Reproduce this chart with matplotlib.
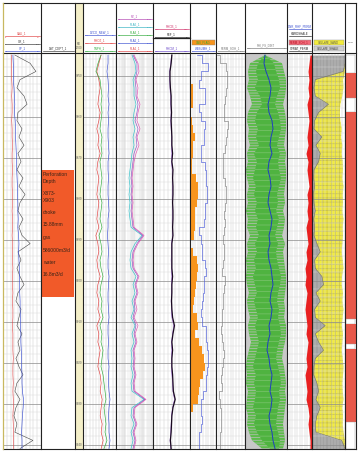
import numpy as np
import matplotlib
matplotlib.use("Agg")
import matplotlib.pyplot as plt
from matplotlib.patches import Rectangle

plt.rcParams['font.family'] = ['Liberation Sans', 'DejaVu Sans']
plt.rcParams['hatch.linewidth'] = 0.5

depth = np.arange(845, 942, 2)

# track 1
gr = [47, 107, 130, 67, 55, 83, 95, 59, 55, 75,
      63, 83, 59, 71, 55, 79, 63, 87, 67, 59,
      79, 63, 75, 107, 59, 71, 55, 67, 83, 59,
      51, 71, 63, 55, 75, 59, 67, 51, 63, 79,
      55, 47, 67, 51, 43, 55, 47, 118, 67]
sp = [-54, -53, -52, -53, -51, -50, -49, -50, -48, -47,
      -47, -46, -45, -44, -44, -43, -42, -42, -41, -41,
      -40, -41, -39, -38, -39, -38, -37, -37, -36, -36,
      -35, -35, -34, -34, -33, -33, -32, -31, -31, -30,
      -30, -29, -26, -27, -29, -30, -31, -30, -30]
cali = [8.2, 8.2, 8.3, 8.3, 8.4, 8.3, 8.4, 8.4, 8.3, 8.4,
        8.4, 8.5, 8.4, 8.4, 8.5, 8.4, 8.4, 8.5, 8.5, 8.4,
        8.5, 8.5, 8.4, 8.5, 8.5, 8.5, 8.6, 8.5, 8.5, 8.6,
        8.5, 8.6, 8.6, 8.5, 8.6, 8.6, 8.6, 8.7, 8.6, 8.6,
        8.7, 8.6, 8.7, 8.7, 8.6, 8.7, 8.7, 8.7, 8.8]

# track 3
rhoz = [2.50, 2.43, 2.37, 2.43, 2.47, 2.43, 2.40, 2.47, 2.43, 2.37,
        2.43, 2.40, 2.47, 2.40, 2.37, 2.43, 2.40, 2.37, 2.43, 2.40,
        2.37, 2.43, 2.34, 2.40, 2.43, 2.37, 2.40, 2.47, 2.40, 2.37,
        2.43, 2.40, 2.47, 2.37, 2.43, 2.40, 2.47, 2.43, 2.40, 2.47,
        2.50, 2.47, 2.53, 2.50, 2.47, 2.53, 2.50, 2.56, 2.50]
tnph = [.123, .177, .214, .141, .123, .105, .123, .105, .123, .141,
        .105, .123, .105, .141, .123, .105, .123, .141, .105, .123,
        .141, .105, .159, .123, .105, .141, .123, .086, .123, .141,
        .105, .123, .086, .141, .105, .123, .086, .105, .123, .086,
        .068, .050, .032, .068, .050, .032, .050, .014, .068]
dtco = [64.2, 64.2, 67.3, 64.2, 62.7, 64.2, 61.2, 64.2, 62.7, 64.2,
        64.2, 62.7, 61.2, 64.2, 64.2, 62.7, 64.2, 64.2, 62.7, 61.2,
        64.2, 64.2, 65.8, 64.2, 62.7, 64.2, 64.2, 61.2, 62.7, 64.2,
        64.2, 62.7, 61.2, 64.2, 64.2, 62.7, 64.2, 64.2, 61.2, 62.7,
        62.7, 61.2, 58.2, 61.2, 62.7, 61.2, 61.2, 58.2, 61.2]

# track 4 (ohm.m)
rt = [17.7, 48, 61, 29, 48, 37, 79, 48, 37, 79,
      37, 61, 29, 17.7, 13.8, 10.7, 13.8, 10.7, 13.8, 10.7,
      13.8, 17.7, 213, 48, 17.7, 13.8, 17.7, 61, 29, 48,
      22.7, 37, 17.7, 48, 22.7, 37, 17.7, 22.7, 17.7, 29,
      17.7, 22.7, 350, 22.7, 17.7, 37, 17.7, 29, 17.7]
rxo = [10.7, 22.7, 29, 13.8, 17.7, 17.7, 29, 17.7, 13.8, 22.7,
       13.8, 17.7, 10.7, 8.4, 6.5, 5.1, 6.5, 5.1, 6.5, 5.1,
       6.5, 8.4, 129, 22.7, 8.4, 6.5, 8.4, 29, 13.8, 22.7,
       10.7, 17.7, 8.4, 22.7, 10.7, 17.7, 8.4, 10.7, 8.4, 13.8,
       8.4, 10.7, 213, 10.7, 8.4, 17.7, 8.4, 13.8, 8.4]
rla3 = [13.8, 37, 37, 22.7, 29, 29, 48, 37, 22.7, 48,
        29, 37, 17.7, 13.8, 10.7, 8.4, 10.7, 8.4, 10.7, 8.4,
        10.7, 13.8, 166, 37, 13.8, 10.7, 13.8, 48, 22.7, 37,
        17.7, 22.7, 13.8, 29, 17.7, 29, 13.8, 17.7, 13.8, 22.7,
        13.8, 17.7, 273, 17.7, 13.8, 29, 13.8, 22.7, 13.8]

# track 5
rhob = [2.46, 2.44, 2.41, 2.41, 2.42, 2.44, 2.44, 2.45, 2.44, 2.45,
        2.46, 2.46, 2.48, 2.46, 2.49, 2.48, 2.49, 2.49, 2.48, 2.49,
        2.49, 2.48, 2.49, 2.46, 2.46, 2.46, 2.46, 2.48, 2.46, 2.46,
        2.45, 2.46, 2.48, 2.53, 2.49, 2.46, 2.48, 2.46, 2.46, 2.48,
        2.49, 2.50, 2.55, 2.49, 2.46, 2.45, 2.44, 2.42, 2.44]
rhom = [2.45, 2.43, 2.40, 2.40, 2.41, 2.42, 2.43, 2.44, 2.43, 2.44,
        2.45, 2.45, 2.46, 2.45, 2.47, 2.47, 2.48, 2.47, 2.47, 2.48,
        2.47, 2.47, 2.48, 2.45, 2.45, 2.44, 2.45, 2.46, 2.45, 2.45,
        2.44, 2.45, 2.46, 2.51, 2.48, 2.45, 2.46, 2.45, 2.45, 2.46,
        2.48, 2.49, 2.53, 2.48, 2.45, 2.44, 2.43, 2.41, 2.43]

# track 6
gas_flag = [0, 0, 0, 0.02, 0.1, 0.12, 0.12, 0.04, 0.08, 0.1,
            0.18, 0.12, 0.1, 0.08, 0.06, 0.22, 0.3, 0.3, 0.28, 0.2,
            0.18, 0.2, 0.15, 0.05, 0.12, 0.25, 0.3, 0.28, 0.22, 0.18,
            0.15, 0.12, 0.25, 0.3, 0.2, 0.35, 0.45, 0.55, 0.58, 0.5,
            0.4, 0.35, 0.3, 0.1, 0.03, 0.02, 0, 0, 0]
wbsum = [.27, .69, .73, .15, .54, .58, .54, .19, .62, .54,
         .50, .58, .27, .54, .62, .58, .65, .69, .62, .54,
         .58, .50, .23, .58, .38, .54, .62, .58, .50, .58,
         .42, .54, .31, .62, .58, .65, .69, .73, .69, .65,
         .58, .62, .35, .50, .38, .54, .31, .38, .35]

# track 7
perm = [3.4, 27.6, 41.4, 34.5, 44.8, 24.1, 37.9, 20.7, 34.5, 48.3,
        27.6, 41.4, 20.7, 31, 17.2, 34.5, 27.6, 44.8, 24.1, 37.9,
        20.7, 41.4, 17.2, 31, 24.1, 34.5, 17.2, 27.6, 37.9, 20.7,
        31, 17.2, 27.6, 13.8, 24.1, 17.2, 34.5, 20.7, 27.6, 13.8,
        24.1, 17.2, 6.9, 20.7, 13.8, 24.1, 10.3, 17.2, 10.3]

# track 8 (porosity, scale 0.42 -> 0)
phi_in_l = [.22, .29, .31, .29, .32, .27, .25, .30, .32, .29,
            .31, .28, .33, .30, .32, .34, .31, .33, .30, .32,
            .29, .31, .28, .32, .30, .33, .31, .34, .32, .30,
            .33, .31, .29, .32, .30, .28, .30, .32, .34, .31,
            .33, .31, .32, .34, .31, .33, .30, .25, .17]
phi_in_r = [.22, .13, .11, .08, .07, .10, .12, .09, .07, .06,
            .08, .10, .07, .09, .08, .06, .08, .10, .09, .11,
            .08, .10, .12, .09, .11, .10, .08, .06, .07, .09,
            .10, .08, .09, .07, .06, .08, .10, .11, .09, .07,
            .06, .08, .07, .09, .10, .11, .09, .07, .08]
phi_out_l = [.22, .37, .39, .38, .40, .37, .35, .39, .40, .38,
             .39, .37, .40, .39, .41, .40, .38, .40, .39, .41,
             .39, .40, .37, .40, .39, .41, .40, .41, .40, .38,
             .40, .39, .37, .39, .38, .36, .38, .40, .41, .40,
             .41, .39, .40, .41, .39, .40, .38, .35, .25]
phi_out_r = [.22, .05, .03, .01, .01, .02, .04, .02, .01, .01,
             .02, .03, .01, .02, .01, .01, .02, .03, .02, .04,
             .02, .03, .05, .02, .04, .03, .02, .01, .01, .02,
             .03, .02, .03, .01, .01, .02, .04, .05, .03, .02,
             .01, .02, .01, .02, .03, .04, .03, .02, .04]
phit = [.22, .23, .21, .18, .16, .17, .19, .18, .15, .14,
        .16, .17, .15, .18, .19, .17, .16, .18, .19, .17,
        .15, .16, .18, .17, .19, .18, .16, .15, .14, .16,
        .17, .15, .16, .18, .17, .19, .20, .18, .17, .15,
        .16, .17, .15, .16, .18, .17, .15, .14, .12]

# track 9
perm_soh = [46, 44, 42, 44, 42, 44, 40, 42, 44, 42,
            40, 42, 38, 42, 40, 42, 44, 40, 42, 40,
            42, 38, 40, 42, 38, 40, 36, 38, 36, 40,
            38, 36, 38, 40, 38, 42, 40, 38, 40, 36,
            38, 40, 38, 42, 44, 42, 44, 46, 46]

# track 10
vsh = [1.0, 1.0, 0.95, 0.1, 0.06, 0.1, 0.5, 0.2, 0.08, 0.06,
       0.3, 0.12, 0.25, 0.2, 0.06, 0.05, 0.08, 0.04, 0.06, 0.1,
       0.05, 0.08, 0.06, 0.15, 0.25, 0.08, 0.1, 0.3, 0.35, 0.12,
       0.25, 0.08, 0.1, 0.4, 0.1, 0.2, 0.35, 0.1, 0.06, 0.05,
       0.15, 0.2, 0.12, 0.25, 0.15, 0.1, 0.12, 0.9, 1.0]
vsand = [1, 1, 1, 0.94, 0.95, 0.92, 0.86, 0.84, 0.86, 0.9,
         0.88, 0.92, 0.9, 0.93, 0.94, 0.92, 0.95, 0.93, 0.94, 0.92,
         0.95, 0.93, 0.94, 0.92, 0.9, 0.93, 0.95, 0.91, 0.9, 0.94,
         0.92, 0.95, 0.93, 0.9, 0.94, 0.92, 0.9, 0.93, 0.95, 0.94,
         0.92, 0.93, 0.95, 0.92, 0.94, 0.93, 0.95, 1.0, 1.0]

# track 11 interpretation zones
zone_top = [845, 849.4, 855.5, 858.9, 909.3, 910.5, 915.6, 916.6, 934.5]
zone_bot = [849.4, 855.5, 858.9, 909.3, 910.5, 915.6, 916.6, 934.5, 941]
zone_kind = ['dry', 'gas', 'dry', 'gas', 'dry', 'gas', 'dry', 'gas', 'dry']

# perforation / test result
perf_top, perf_bot = 873, 904
perf_text = ['Perforation', 'Depth', '', 'X873-', 'X903', '', 'choke', '',
             '15.88mm', '', 'gas', '', '586000m3/d', '', 'water', '', '16.8m3/d']

depth_labels = np.arange(850, 941, 10)

# ---------------- layout (pixels) ----------------
W, H, DPI = 359, 453, 100
TOP, HEAD, BOT = 3, 53, 448.6
TRACKS = [3, 41, 75, 83, 116, 153, 190, 216, 245, 287, 312, 345, 356]
D_TOP, D_BOT = 844.5, 941

fig = plt.figure(figsize=(W / DPI, H / DPI), dpi=DPI)


def track_ax(i, xlim, log=False, grid=True, face='white'):
    x0, x1 = TRACKS[i], TRACKS[i + 1]
    ax = fig.add_axes([x0 / W, 1 - BOT / H, (x1 - x0) / W, (BOT - HEAD) / H])
    if log:
        ax.set_xscale('log')
    ax.set_xlim(*xlim)
    ax.set_ylim(D_BOT, D_TOP)
    ax.set_facecolor(face)
    for s in ax.spines.values():
        s.set_visible(False)
    ax.tick_params(which='both', length=0, labelbottom=False, labelleft=False)
    if grid:
        ax.set_yticks(np.arange(850, 941, 10))
        ax.set_yticks(np.arange(846, 941, 2), minor=True)
        if log:
            ax.set_xticks([0.2, 2, 20, 200, 2000])
            ax.set_xticks([0.2 * 10 ** n * k for n in range(4) for k in range(2, 10)], minor=True)
        else:
            ax.set_xticks(np.linspace(xlim[0], xlim[1], 11))
        ax.grid(True, which='minor', color='#d8d8d8', lw=0.3)
        ax.grid(True, which='major', axis='x', color='#cccccc', lw=0.35)
        ax.grid(True, which='major', axis='y', color='#8c8c8c', lw=0.5)
    else:
        ax.set_xticks([])
        ax.set_yticks([])
    return ax


def twin(ax, xlim):
    # extra curve scale sharing the same track
    t = ax.twiny()
    t.set_xlim(*xlim)
    t.set_ylim(D_BOT, D_TOP)
    t.axis('off')
    return t


# track 1: GR / SP / CALI
ax1 = track_ax(0, (0, 150))
twin(ax1, (6, 16)).plot(cali, depth, color='#e04040', lw=0.4)
twin(ax1, (-80, 20)).plot(sp, depth, color='#3a4fd0', lw=0.45)
ax1.plot(gr, depth, color='#444444', lw=0.4)

# track 2: test result
ax2 = track_ax(1, (0, 1), grid=False)
ax2.axhspan(perf_top, perf_bot, xmin=0.03, xmax=0.98, color='#f15a29', lw=0)

# depth track
axd = track_ax(2, (0, 1), grid=False, face='#f4efc8')
for d in depth_labels:
    axd.text(0.5, d, 'X%d' % d, fontsize=2.0, color='#555555',
             ha='center', va='center')

# track 3: DTCO / RHOZ / TNPH
ax3 = track_ax(3, (140, 40))
ax3.plot(dtco, depth, color='#3a4fd0', lw=0.45)
twin(ax3, (1.95, 2.95)).plot(rhoz, depth, color='#e04040', lw=0.45)
twin(ax3, (0.45, -0.15)).plot(tnph, depth, color='#2faa3a', lw=0.45)

# track 4: resistivity
ax4 = track_ax(4, (0.2, 2000), log=True)
ax4.plot(rxo, depth, color='#30c0c8', lw=0.45)
ax4.plot(rla3, depth, color='#8040c0', lw=0.4)
ax4.plot(rt, depth, color='#e050b0', lw=0.45)

# track 5: density
ax5 = track_ax(5, (1.95, 2.95))
ax5.plot(rhom, depth, color='#9050d0', lw=0.4)
ax5.plot(rhob, depth, color='#1a0a20', lw=0.9)

# track 6: gas flag / WBSUMH
ax6 = track_ax(6, (0, 1))
ax6.set_axisbelow(True)
ax6.fill_betweenx(depth, 0, gas_flag, step='mid', color='#f7941d', lw=0, zorder=2)
ax6.plot(wbsum, depth, color='#4a5ad8', lw=0.45, drawstyle='steps-mid')

# track 7: permeability
ax7 = track_ax(7, (0, 100))
ax7.plot(perm, depth, color='#808080', lw=0.45, drawstyle='steps-mid')

# track 8: porosity distribution
ax8 = track_ax(8, (0.42, 0), grid=False, face='#c8c8c8')
ax8.fill_betweenx(depth, phi_out_l, phi_out_r, facecolor='#5cbc4a',
                  edgecolor='#bdbdbd', hatch='------', lw=0)
ax8.fill_betweenx(depth, phi_in_l, phi_in_r, facecolor='#4fb340',
                  edgecolor='#7cc46e', hatch='---', lw=0)
ax8.plot(phit, depth, color='#1f3fc0', lw=0.7)

# track 9: permeability fill
ax9 = track_ax(9, (0, 50))
ax9.set_axisbelow(True)
ax9.fill_betweenx(depth, perm_soh, 50, color='#e82020', lw=0, zorder=2)

# track 10: volumes
ax10 = track_ax(10, (0, 1))
v_sh = np.array(vsh)
v_sd = np.array(vsand)
ax10.fill_betweenx(depth, 0, v_sh, color='#a3a3a3', lw=0, zorder=1)
ax10.fill_betweenx(depth, v_sh, v_sd, where=v_sd > v_sh, interpolate=True,
                   facecolor='#f3ec3c', edgecolor='#c9c24c', hatch='++++', lw=0, zorder=1)
ax10.plot(v_sh, depth, color='#6a6a6a', lw=0.4)

# track 11: zones
ax11 = track_ax(11, (0, 1), grid=False)
for top, bot, kind in zip(zone_top, zone_bot, zone_kind):
    if kind == 'gas':
        ax11.axhspan(top, bot, color='#e8584a', lw=0)
    else:
        ax11.axhspan(top, bot, xmin=0.1, xmax=0.9, facecolor='white',
                     edgecolor='#999999', lw=0.3)

# ---------------- overlay: header, frame, text ----------------
ov = fig.add_axes([0, 0, 1, 1], zorder=10)
ov.set_xlim(0, W)
ov.set_ylim(H, 0)
ov.axis('off')
ov.patch.set_alpha(0)

# depth track header fill
ov.add_patch(Rectangle((TRACKS[2], TOP), TRACKS[3] - TRACKS[2], HEAD - TOP,
                       facecolor='#f4efc8', lw=0))
ov.text((TRACKS[2] + TRACKS[3]) / 2, 46, 'MD\n1:500', fontsize=1.8, color='#555555',
        ha='center', va='center', linespacing=1.0)

header_curves = [
    (0, 36, 'CALI_1', '#e04040', '6', '16'),
    (0, 43.5, 'GR_1', '#333333', '0', '150'),
    (0, 50.5, 'SP_1', '#3a4fd0', '-80', '20'),
    (1, 50.5, 'DST_DEPT_1', '#333333', '', ''),
    (3, 35, 'DTCO_NEW_1', '#3a4fd0', '140', '40'),
    (3, 43, 'RHOZ_1', '#e04040', '1.95', '2.95'),
    (3, 50.5, 'TNPH_1', '#2faa3a', '0.45', '-0.15'),
    (4, 19, 'RT_1', '#b040b0', '0.2', '2000'),
    (4, 27, 'RLA5_1', '#30b0c0', '0.2', '2000'),
    (4, 35, 'RLA3_1', '#2faa3a', '0.2', '2000'),
    (4, 43, 'RLA2_1', '#3a4fd0', '0.2', '2000'),
    (4, 50.5, 'RLA1_1', '#e04040', '0.2', '2000'),
    (5, 29, 'RHOB_1', '#d0306a', '1.95', '2.95'),
    (5, 36.5, 'PEF_1', '#222222', '0', '10'),
    (5, 50.5, 'RHOM_1', '#6a48c8', '1.95', '2.95'),
    (6, 50.5, 'WBSUMH_1', '#3a4fd0', '0', '1'),
    (7, 50.5, 'PERM_SOH_1', '#777777', '0', '100'),
    (8, 47.5, 'PHI_FS_DIST', '#777777', '0.42', '0'),
    (9, 29, 'DNR_RHF_PERM', '#3a4fd0', '', ''),
    (9, 36, 'HARDSHALE', '#222222', '', ''),
    (9, 50.5, 'SVRAT_PERM', '#222222', '', ''),
]
for i, y, name, col, lo, hi in header_curves:
    x0, x1 = TRACKS[i] + 1.5, TRACKS[i + 1] - 1.5
    ov.text((x0 + x1) / 2, y - 0.4, name, fontsize=2.1, color=col, ha='center', va='bottom')
    ov.plot([x0, x1], [y, y], color=col, lw=0.45)
    ov.text(x0, y + 0.5, lo, fontsize=1.6, color=col, ha='left', va='top')
    ov.text(x1, y + 0.5, hi, fontsize=1.6, color=col, ha='right', va='top')

header_boxes = [
    (6, 40, 45, '#f7941d', 'GAS_FLAG', '#2faa3a'),
    (9, 40, 45, '#f26a7a', 'PERM_SOH_1', '#b01020'),
    (10, 40, 45, '#f3ec3c', 'VOLUME_SAND', '#555555'),
    (10, 46, 51, '#d0d0d0', 'VOLUME_SHALE', '#333333'),
]
for i, y0, y1, fc, name, tc in header_boxes:
    x0, x1 = TRACKS[i] + 1.5, TRACKS[i + 1] - 1.5
    ov.add_patch(Rectangle((x0, y0), x1 - x0, y1 - y0, facecolor=fc,
                           edgecolor='#888888', lw=0.3))
    ov.text((x0 + x1) / 2, (y0 + y1) / 2, name, fontsize=2.0, color=tc,
            ha='center', va='center')
ov.plot([TRACKS[5], TRACKS[6]], [37.5, 37.5], color='#222222', lw=0.9)
ov.text((TRACKS[11] + TRACKS[12]) / 2, 42.5, 'ZONE', fontsize=1.6,
        color='#777777', ha='center', va='center')

# frame lines
ov.plot([TRACKS[0], TRACKS[-1]], [TOP, TOP], color='#222222', lw=0.8)
ov.plot([TRACKS[0], TRACKS[-1]], [HEAD, HEAD], color='#222222', lw=0.8)
ov.plot([TRACKS[0], TRACKS[-1]], [BOT, BOT], color='#222222', lw=0.8)
for x in TRACKS[1:]:
    ov.plot([x, x], [TOP, BOT], color='#222222', lw=0.8)
ov.plot([TRACKS[0], TRACKS[0]], [TOP, BOT], color='#c8b860', lw=0.9)

# perforation notes
for k, line in enumerate(perf_text):
    ov.text(43, 175 + k * 6.25, line, fontsize=3.6, color='#3a2418',
            ha='left', va='center')

fig.savefig('out.png', dpi=DPI)
